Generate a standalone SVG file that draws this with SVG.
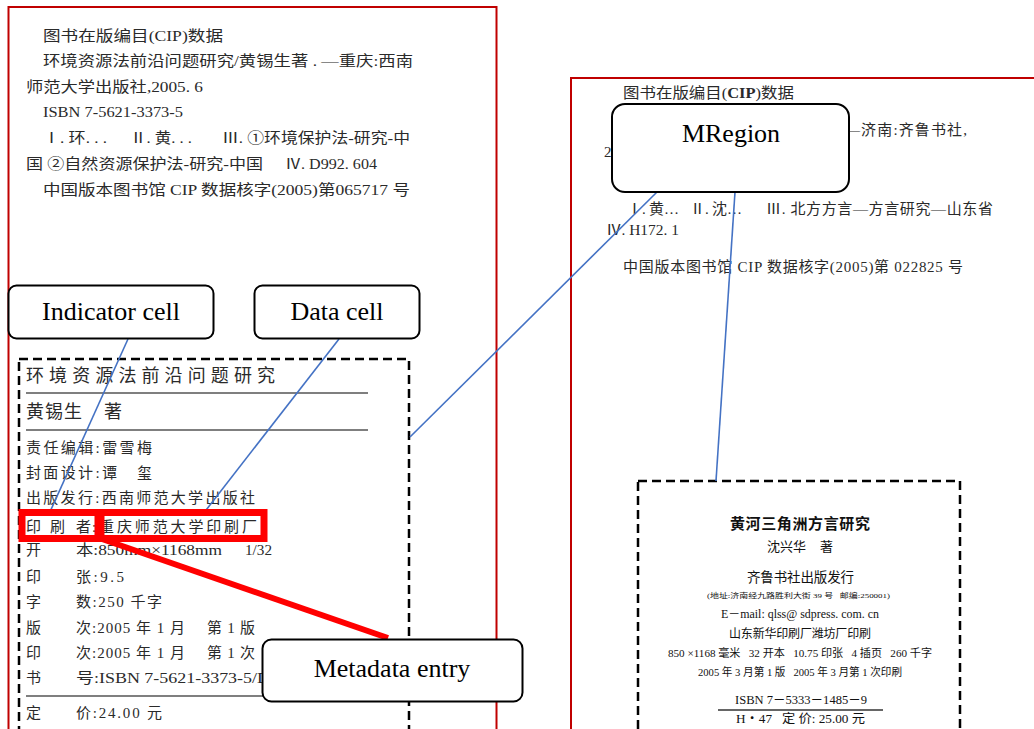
<svg xmlns="http://www.w3.org/2000/svg" width="1034" height="729" viewBox="0 0 1034 729">
<style>
.page{fill:none;stroke:#c00000;stroke-width:2}
.t{font-family:"Liberation Serif","Noto Sans CJK SC",serif;font-size:14.5px;fill:#2a2a2a}
.b{font-family:"Liberation Serif","Noto Sans CJK SC",serif;font-size:15px;fill:#2a2a2a}
.r{font-family:"Liberation Serif","Noto Sans CJK SC",serif;fill:#111}
.dash{fill:none;stroke:#000;stroke-width:2.5;stroke-dasharray:9 5}
.rule{stroke:#555;stroke-width:1.5}
.lbl rect{fill:#fff;stroke:#000;stroke-width:2}
.lbl text{font-family:"Liberation Serif","Times New Roman",serif;font-size:26px;fill:#000;text-anchor:middle}
.conn{stroke:#4472c4;stroke-width:1.6;fill:none}
.hl{fill:none;stroke:#ff0000;stroke-width:7}
</style>

<g id="left-page">
<rect class="page" x="8.5" y="7" width="488" height="740"/>
<text class="t" x="43" y="41" textLength="180" lengthAdjust="spacingAndGlyphs">图书在版编目(CIP)数据</text>
<text class="t" x="43" y="66" textLength="370" lengthAdjust="spacingAndGlyphs">环境资源法前沿问题研究/黄锡生著 . —重庆:西南</text>
<text class="t" x="26" y="92" textLength="177" lengthAdjust="spacingAndGlyphs">师范大学出版社,2005. 6</text>
<text class="t" x="43" y="117" textLength="140" lengthAdjust="spacingAndGlyphs">ISBN 7-5621-3373-5</text>
<text class="t" x="43" y="143" textLength="64" lengthAdjust="spacingAndGlyphs">Ⅰ. 环. . .</text>
<text class="t" x="130" y="143" textLength="62" lengthAdjust="spacingAndGlyphs">Ⅱ. 黄. . .</text>
<text class="t" x="222" y="143" textLength="188" lengthAdjust="spacingAndGlyphs">Ⅲ. ①环境保护法-研究-中</text>
<text class="t" x="26" y="169" textLength="237" lengthAdjust="spacingAndGlyphs">国 ②自然资源保护法-研究-中国</text>
<text class="t" x="285" y="169" textLength="92" lengthAdjust="spacingAndGlyphs">Ⅳ. D992. 604</text>
<text class="t" x="43" y="195" textLength="367" lengthAdjust="spacingAndGlyphs">中国版本图书馆 CIP 数据核字(2005)第065717 号</text>
</g>

<g id="left-record">
<rect class="dash" x="19" y="359" width="390" height="372"/>
<text class="b" x="26" y="382" style="font-size:18px" textLength="249" lengthAdjust="spacing">环境资源法前沿问题研究</text>
<line class="rule" x1="26" y1="393" x2="368" y2="393"/>
<text class="b" x="26" y="418" style="font-size:18px" textLength="56" lengthAdjust="spacing">黄锡生</text>
<text class="b" x="104" y="418" style="font-size:18px">著</text>
<line class="rule" x1="26" y1="430" x2="368" y2="430"/>
<text class="b" x="26" y="453" textLength="126" lengthAdjust="spacing">责任编辑:雷雪梅</text>
<text class="b" x="26" y="478" textLength="91" lengthAdjust="spacing">封面设计:谭</text>
<text class="b" x="137" y="478">玺</text>
<text class="b" x="26" y="503" textLength="229" lengthAdjust="spacing">出版发行:西南师范大学出版社</text>
<text class="b" x="26" y="532">印</text><text class="b" x="50" y="532">刷</text><text class="b" x="76" y="532">者</text>
<text class="b" x="92" y="532" textLength="165" lengthAdjust="spacing">:重庆师范大学印刷厂</text>
<text class="b" x="26" y="555">开</text>
<text class="b" x="76" y="555" textLength="146" lengthAdjust="spacingAndGlyphs">本:850mm×1168mm</text>
<text class="b" x="245" y="555" textLength="27" lengthAdjust="spacingAndGlyphs">1/32</text>
<text class="b" x="26" y="582">印</text>
<text class="b" x="76" y="582" textLength="48" lengthAdjust="spacing">张:9.5</text>
<text class="b" x="26" y="607">字</text>
<text class="b" x="76" y="607" textLength="86" lengthAdjust="spacing">数:250 千字</text>
<text class="b" x="26" y="633">版</text>
<text class="b" x="76" y="633" textLength="109" lengthAdjust="spacing">次:2005 年 1 月</text>
<text class="b" x="207" y="633" textLength="48" lengthAdjust="spacing">第 1 版</text>
<text class="b" x="26" y="658">印</text>
<text class="b" x="76" y="658" textLength="109" lengthAdjust="spacing">次:2005 年 1 月</text>
<text class="b" x="207" y="658" textLength="48" lengthAdjust="spacing">第 1 次</text>
<text class="b" x="26" y="683">书</text>
<text class="b" x="76" y="683" textLength="194" lengthAdjust="spacingAndGlyphs">号:ISBN 7-5621-3373-5/D</text>
<line class="rule" x1="26" y1="696" x2="368" y2="696"/>
<text class="b" x="26" y="718">定</text>
<text class="b" x="76" y="718" textLength="86" lengthAdjust="spacing">价:24.00 元</text>
</g>

<g id="right-page">
<rect class="page" x="571" y="78" width="500" height="700"/>
<text class="b" x="623" y="98" textLength="171" lengthAdjust="spacingAndGlyphs">图书在版编目(<tspan font-weight="bold">CIP</tspan>)数据</text>
<text class="b" x="845" y="135" textLength="122" lengthAdjust="spacing">—济南:齐鲁书社,</text>
<text class="b" x="604" y="157">2</text>
<text class="b" x="627" y="214" textLength="52" lengthAdjust="spacing">Ⅰ. 黄…</text>
<text class="b" x="690" y="214" textLength="52" lengthAdjust="spacing">Ⅱ. 沈…</text>
<text class="b" x="766" y="214" textLength="227" lengthAdjust="spacing">Ⅲ. 北方方言—方言研究—山东省</text>
<text class="b" x="606" y="235" textLength="73" lengthAdjust="spacingAndGlyphs">Ⅳ. H172. 1</text>
<text class="b" x="623" y="272" textLength="340" lengthAdjust="spacing">中国版本图书馆 CIP 数据核字(2005)第 022825 号</text>
</g>

<g id="right-record">
<rect class="dash" x="638" y="481" width="322" height="250"/>
<text class="r" x="730" y="529" style="font-size:15px;font-weight:bold" textLength="140" lengthAdjust="spacing">黄河三角洲方言研究</text>
<text class="r" x="767" y="551" style="font-size:13px" textLength="39" lengthAdjust="spacing">沈兴华</text>
<text class="r" x="820" y="551" style="font-size:13px">著</text>
<text class="r" x="747" y="582" style="font-size:13.5px" textLength="107" lengthAdjust="spacing">齐鲁书社出版发行</text>
<text class="r" x="707" y="598" style="font-size:7px" textLength="183" lengthAdjust="spacingAndGlyphs" xml:space="preserve">(地址:济南经九路胜利大街 39 号   邮编:250001)</text>
<text class="r" x="721" y="618" style="font-size:12px" textLength="158" lengthAdjust="spacingAndGlyphs">E－mail: qlss@ sdpress. com. cn</text>
<text class="r" x="729" y="638" style="font-size:12px" textLength="142" lengthAdjust="spacing">山东新华印刷厂潍坊厂印刷</text>
<text class="r" x="668" y="657" style="font-size:11px" textLength="264" lengthAdjust="spacingAndGlyphs" xml:space="preserve">850 ×1168 毫米   32 开本   10.75 印张   4 插页   260 千字</text>
<text class="r" x="698" y="676" style="font-size:11px" textLength="204" lengthAdjust="spacingAndGlyphs" xml:space="preserve">2005 年 3 月第 1 版   2005 年 3 月第 1 次印刷</text>
<text class="r" x="735" y="704" style="font-size:12.5px" textLength="132" lengthAdjust="spacingAndGlyphs">ISBN 7－5333－1485－9</text>
<line x1="718" y1="710" x2="883" y2="710" stroke="#333" stroke-width="1.3"/>
<text class="r" x="736" y="723" style="font-size:12.5px" textLength="129" lengthAdjust="spacingAndGlyphs" xml:space="preserve">H・47   定 价: 25.00 元</text>
</g>

<g id="connectors">
<line class="conn" x1="128" y1="339" x2="49" y2="514"/>
<line class="conn" x1="339" y1="339" x2="203" y2="514"/>
<line class="conn" x1="657" y1="192" x2="410" y2="437"/>
<line class="conn" x1="735" y1="192" x2="716" y2="481"/>
<line x1="102" y1="539" x2="388" y2="638" stroke="#ff0000" stroke-width="6"/>
</g>

<g id="highlight-indicator"><rect class="hl" x="22" y="512.5" width="76" height="26"/></g>
<g id="highlight-data"><rect class="hl" x="101" y="512.5" width="163" height="26"/></g>

<g id="indicator-cell" class="lbl">
<rect x="8.5" y="285.5" width="205" height="53" rx="8"/>
<text x="111" y="320">Indicator cell</text>
</g>
<g id="data-cell" class="lbl">
<rect x="254.5" y="285.5" width="165" height="53" rx="8"/>
<text x="337" y="320">Data cell</text>
</g>
<g id="mregion" class="lbl">
<rect x="612" y="104" width="237" height="88" rx="13"/>
<text x="731" y="142">MRegion</text>
</g>
<g id="metadata-entry" class="lbl">
<rect x="262.5" y="639.5" width="260" height="62" rx="9"/>
<text x="392" y="677">Metadata entry</text>
</g>
</svg>
